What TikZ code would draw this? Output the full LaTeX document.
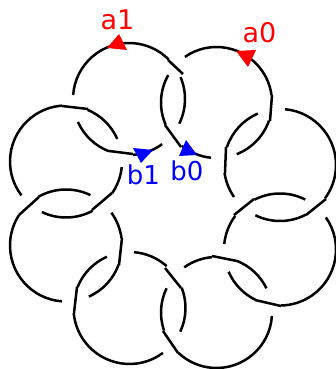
\documentclass[tikz,border=0pt]{standalone}
\usepackage{fontspec}
\setmainfont{DejaVu Sans}
\tikzset{x=1pt,y=1pt,
  strand/.style={line width=2.5pt,black},
  redtip/.style={fill=red,draw=none},
  bluetip/.style={fill=blue,draw=none},
  redlabel/.style={text=red,font=\fontsize{27}{27}\selectfont,inner sep=0pt},
  bluelabel/.style={text=blue,font=\fontsize{26}{26}\selectfont,inner sep=0pt}}
% arc on a circle, pixel coordinates with y down; #8 = 1 clockwise on screen, 0 counter-clockwise
\newcommand\KA[8]{%
  \pgfmathsetmacro\aone{atan2(#2-#5,#4-#1)}%
  \pgfmathsetmacro\atwo{atan2(#2-#7,#6-#1)}%
  \ifnum#8=1
    \pgfmathsetmacro\atwo{\atwo>\aone ? \atwo-360 : \atwo}%
  \else
    \pgfmathsetmacro\atwo{\atwo<\aone ? \atwo+360 : \atwo}%
  \fi
  \draw[strand] ({#1+#3*cos(\aone)},{369-#2+#3*sin(\aone)}) arc[start angle=\aone,end angle=\atwo,radius=#3];}
\newcommand\LN[4]{\draw[strand] (#1,369-#2) -- (#3,369-#4);}
\begin{document}
\begin{tikzpicture}
\useasboundingbox (0,0) rectangle (336,369);
\newcommand\CA[5]{\KA{129}{99}{56}{#1}{#2}{#3}{#4}{#5}}
\newcommand\CB[5]{\KA{216.5}{102.5}{55.5}{#1}{#2}{#3}{#4}{#5}}
\newcommand\CC[5]{\KA{280}{165}{56}{#1}{#2}{#3}{#4}{#5}}
\newcommand\CD[5]{\KA{280}{249.5}{56}{#1}{#2}{#3}{#4}{#5}}
\newcommand\CE[5]{\KA{216.5}{312.5}{55.5}{#1}{#2}{#3}{#4}{#5}}
\newcommand\CF[5]{\KA{129.5}{308}{56}{#1}{#2}{#3}{#4}{#5}}
\newcommand\CG[5]{\KA{66}{245.5}{56}{#1}{#2}{#3}{#4}{#5}}
\newcommand\CH[5]{\KA{66}{161.5}{56}{#1}{#2}{#3}{#4}{#5}}
% strands
\CA{73.5}{95}{168}{60}{1} \LN{168}{60}{183}{74}
\CA{181}{77}{180}{124}{1}
\CB{185}{57}{272}{95}{1} \LN{272}{95}{270}{121} \CB{270}{121}{237}{155}{1}
\CC{258}{114}{226}{147}{0} \LN{226}{147}{225}{173} \CC{225}{173}{234}{197}{0}
\CC{285}{110}{326}{199}{1} \LN{326}{199}{306}{215} \CC{306}{215}{255}{216}{1}
\CD{305}{200}{254}{199}{0} \LN{254}{199}{234}{215} \CD{234}{215}{224}{244}{0}
\CD{325}{218}{281}{306}{1} \LN{281}{306}{255}{300} \CD{255}{300}{228}{272}{1}
\CE{267}{288}{237}{261}{0} \LN{237}{261}{212}{256} \CE{212}{256}{184}{267}{0}
\CE{272}{316}{178}{353}{1} \LN{178}{353}{163}{331} \CE{163}{331}{166}{288}{1}
\CF{181}{332}{181}{288}{0} \LN{181}{288}{165}{268} \CF{165}{268}{134}{253}{0}
\CF{163}{353}{74}{313}{1} \LN{74}{313}{77}{287} \CF{77}{287}{107}{257}{1}
\CG{89}{297}{119}{265}{0} \LN{119}{265}{122}{238} \CG{122}{238}{111}{213}{0}
\CG{62}{302}{19}{215}{1} \LN{19}{215}{39}{197} \CG{39}{197}{90}{196}{1}
\CH{42}{212}{92}{210}{0} \LN{92}{210}{112}{193} \CH{112}{193}{121}{167}{0}
\CH{22}{195}{62}{106}{1} \LN{62}{106}{88}{109} \CH{88}{109}{117}{139}{1}
\CA{78}{122}{109}{151}{0} \LN{109}{151}{133}{154} \CA{133}{154}{162}{144}{0}
\CB{168}{75}{165}{125}{0} \LN{165}{125}{181}{147} \CB{181}{147}{211}{158}{0}
% arrowheads
\fill[redtip] (119,369-34) -- (107,369-48) -- (127,369-50) -- cycle;
\fill[redtip] (236,369-51) -- (256,369-50) -- (248,369-67) -- cycle;
\fill[bluetip] (186,369-140) -- (179,369-156) -- (197,369-155) -- cycle;
\fill[bluetip] (133,369-148) -- (153,369-150) -- (141,369-163) -- cycle;
% labels
\node[redlabel] (la1) at (117.5,369-20) {a1};
\node[redlabel] (la0) at (259.5,369-33) {a0};
\node[bluelabel] (lb1) at (143.5,369-175) {b1};
\node[bluelabel] (lb0) at (187,369-171) {b0};
\end{tikzpicture}
\end{document}
